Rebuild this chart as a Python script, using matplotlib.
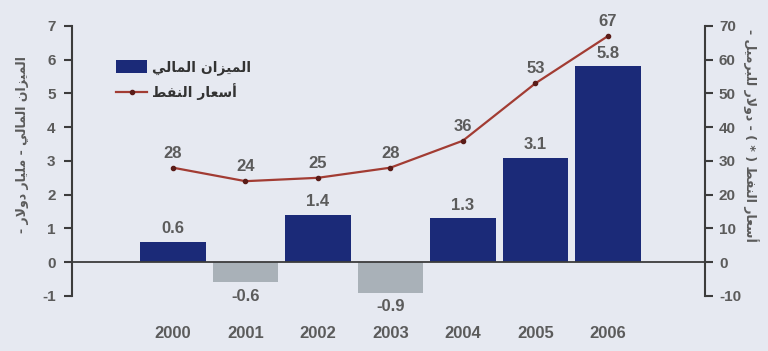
import numpy as np
import matplotlib
matplotlib.use('Agg')
import matplotlib.pyplot as plt
from matplotlib.patches import Patch
from matplotlib.lines import Line2D

# Datos
anios = ['2000', '2001', '2002', '2003', '2004', '2005', '2006']
balance = [0.6, -0.6, 1.4, -0.9, 1.3, 3.1, 5.8]      # مليار دولار
petroleo = [28, 24, 25, 28, 36, 53, 67]              # دولار للبرميل

txt_leyenda_barras = 'الميزان المالي'
txt_leyenda_linea = 'أسعار النفط'
txt_eje_izq = 'الميزان المالي - مليار دولار -'
txt_eje_der = 'أسعار النفط ( * ) - دولار للبرميل -'

# Formas contextuales (aislada, final, inicial, media)
FORMAS = {
    'ا': (0xFE8D, 0xFE8E), 'أ': (0xFE83, 0xFE84),
    'د': (0xFEA9, 0xFEAA), 'ر': (0xFEAD, 0xFEAE),
    'ز': (0xFEAF, 0xFEB0), 'و': (0xFEED, 0xFEEE),
    'ب': (0xFE8F, 0xFE90, 0xFE91, 0xFE92),
    'س': (0xFEB1, 0xFEB2, 0xFEB3, 0xFEB4),
    'ط': (0xFEC1, 0xFEC2, 0xFEC3, 0xFEC4),
    'ع': (0xFEC9, 0xFECA, 0xFECB, 0xFECC),
    'ف': (0xFED1, 0xFED2, 0xFED3, 0xFED4),
    'ل': (0xFEDD, 0xFEDE, 0xFEDF, 0xFEE0),
    'م': (0xFEE1, 0xFEE2, 0xFEE3, 0xFEE4),
    'ن': (0xFEE5, 0xFEE6, 0xFEE7, 0xFEE8),
    'ي': (0xFEF1, 0xFEF2, 0xFEF3, 0xFEF4),
    '\u0001': (0xFEFB, 0xFEFC),   # لا
    '\u0002': (0xFEF7, 0xFEF8),   # لأ
}
ESPEJO = {'(': ')', ')': '('}


def arabe(texto):
    """Da forma a las letras y las pone en orden visual (izquierda a derecha)."""
    t = texto.replace('لا', '\u0001').replace('لأ', '\u0002')
    salida = []
    for i, c in enumerate(t):
        if c not in FORMAS:
            salida.append(ESPEJO.get(c, c))
            continue
        prev = t[i - 1] if i > 0 else ''
        nxt = t[i + 1] if i + 1 < len(t) else ''
        une_prev = prev in FORMAS and len(FORMAS[prev]) == 4
        une_sig = len(FORMAS[c]) == 4 and nxt in FORMAS
        f = FORMAS[c]
        if une_prev and une_sig:
            g = f[3]
        elif une_prev:
            g = f[1]
        elif une_sig:
            g = f[2]
        else:
            g = f[0]
        salida.append(chr(g))
    return ''.join(reversed(salida))


plt.rcParams['font.family'] = ['Liberation Sans', 'DejaVu Sans']
plt.rcParams['font.weight'] = 'bold'
plt.rcParams['axes.unicode_minus'] = False

fondo = '#e6e9f1'
gris_txt = '#5b5b5b'
azul = '#1b2a78'
gris_barra = '#a9b1b8'
rojo = '#a23c33'
eje = '#3c3c3c'

fig = plt.figure(figsize=(7.68, 3.51), dpi=100, facecolor=fondo)
ax = fig.add_axes([0.094, 0.157, 0.824, 0.769])
ax.set_facecolor(fondo)
ax2 = ax.twinx()

x = np.arange(len(anios))
colores = [azul if v >= 0 else gris_barra for v in balance]
ax.bar(x, balance, width=0.9, color=colores, zorder=2)
ax.axhline(0, color=eje, lw=1.3, zorder=3)

for xi, v in zip(x, balance):
    if v >= 0:
        ax.annotate(f'{v:.1f}', (xi, v), xytext=(0, 4), textcoords='offset points',
                    ha='center', va='bottom', fontsize=12, color=gris_txt)
    else:
        ax.annotate(f'{v:.1f}', (xi, v), xytext=(0, -5), textcoords='offset points',
                    ha='center', va='top', fontsize=12, color=gris_txt)

ax2.plot(x, petroleo, color=rojo, lw=1.6, marker='o', markersize=3,
         markerfacecolor='#5a1c18', markeredgecolor='#5a1c18', zorder=4)
for xi, v in zip(x, petroleo):
    ax2.annotate(str(v), (xi, v), xytext=(0, 5), textcoords='offset points',
                 ha='center', va='bottom', fontsize=12, color=gris_txt)

ax.set_xlim(-1.39, 7.34)
ax.set_ylim(-1, 7)
ax2.set_ylim(-10, 70)
ax.set_yticks(range(-1, 8))
ax2.set_yticks(range(-10, 71, 10))
ax.set_xticks(x)
ax.set_xticklabels(anios)

for a in (ax, ax2):
    a.spines['top'].set_visible(False)
    a.spines['bottom'].set_visible(False)
ax.spines['right'].set_visible(False)
ax2.spines['left'].set_visible(False)
ax.spines['left'].set_color(eje)
ax.spines['left'].set_linewidth(1.5)
ax2.spines['right'].set_color(eje)
ax2.spines['right'].set_linewidth(1.5)

ax.tick_params(axis='x', length=0, pad=22, labelsize=12, labelcolor=gris_txt)
ax.tick_params(axis='y', length=6, width=1.5, color=eje, labelsize=11, labelcolor=gris_txt, pad=6)
ax2.tick_params(axis='y', length=6, width=1.5, color=eje, labelsize=11, labelcolor=gris_txt, pad=4)

# Títulos de los ejes
fig.text(0.029, 0.587, arabe(txt_eje_izq), rotation=90, ha='center', va='center',
         fontsize=9, color=gris_txt, family=['DejaVu Sans'])
fig.text(0.978, 0.615, arabe(txt_eje_der), rotation=270, ha='center', va='center',
         fontsize=9, color=gris_txt, family=['DejaVu Sans'])

manijas = [Patch(facecolor=azul, edgecolor='none'),
           Line2D([0], [0], color=rojo, lw=1.6, marker='o', markersize=3,
                  markerfacecolor='#5a1c18', markeredgecolor='#5a1c18')]
ley = ax.legend(manijas, [arabe(txt_leyenda_barras), arabe(txt_leyenda_linea)],
                loc='upper left', bbox_to_anchor=(0.05, 0.92), frameon=False,
                handlelength=2.2, handleheight=1.0, handletextpad=0.4,
                labelspacing=0.6, prop={'family': 'DejaVu Sans', 'size': 10, 'weight': 'bold'})
for t in ley.get_texts():
    t.set_color('#333333')

fig.savefig('out.png', dpi=100, facecolor=fondo)
